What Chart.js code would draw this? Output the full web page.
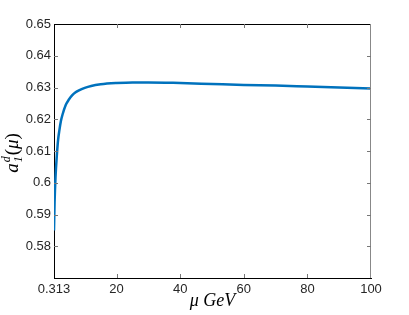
<!DOCTYPE html>
<html>
<head>
<meta charset="utf-8">
<script src="https://cdn.jsdelivr.net/npm/chart.js@4.4.1/dist/chart.umd.min.js"></script>
<style>
  html, body { margin: 0; padding: 0; background: #fff; }
  #wrap { width: 409px; height: 315px; }
</style>
</head>
<body>
<div id="wrap"><canvas id="chart" width="409" height="315"></canvas></div>
<script>
// values
const mu = [0.313, 0.5, 0.8, 1.2, 1.6, 2.0, 2.5, 3, 4, 5, 6, 7, 8, 10, 12, 15, 20, 25, 30, 40, 50, 60, 70, 80, 90, 100];
const a1d = [0.585, 0.594, 0.602, 0.6085, 0.6135, 0.6165, 0.6195, 0.6215, 0.6245, 0.6262, 0.6275, 0.6284, 0.6290,
             0.6299, 0.6305, 0.6310, 0.6314, 0.6316, 0.6316, 0.6314, 0.6311, 0.6308, 0.6306, 0.6303, 0.6300, 0.6297];
const xTicks = [0.313, 20, 40, 60, 80, 100];
const yTicks = [0.57, 0.58, 0.59, 0.6, 0.61, 0.62, 0.63, 0.64, 0.65];

const tickFont = { family: 'Liberation Sans', size: 13 };

// box + inward tick marks, matlab style
const boxPlugin = {
  id: 'box',
  afterDraw(chart) {
    const ctx = chart.ctx, a = chart.chartArea;
    const xs = chart.scales.x, ys = chart.scales.y;
    ctx.save();
    ctx.lineWidth = 1;
    ctx.strokeStyle = '#000';
    ctx.beginPath();
    ctx.moveTo(a.left, a.top + 0.5);
    ctx.lineTo(a.right, a.top + 0.5);
    ctx.stroke();
    ctx.strokeStyle = '#888';
    ctx.beginPath();
    ctx.moveTo(a.right - 0.5, a.top);
    ctx.lineTo(a.right - 0.5, a.bottom);
    ctx.stroke();
    ctx.strokeStyle = '#777';
    ctx.beginPath();
    xTicks.slice(1, -1).forEach(v => {
      const px = Math.round(xs.getPixelForValue(v)) + 0.5;
      ctx.moveTo(px, a.bottom); ctx.lineTo(px, a.bottom - 4);
      ctx.moveTo(px, a.top); ctx.lineTo(px, a.top + 4);
    });
    yTicks.slice(1, -1).forEach(v => {
      const py = Math.round(ys.getPixelForValue(v)) + 0.5;
      ctx.moveTo(a.left, py); ctx.lineTo(a.left + 4, py);
      ctx.moveTo(a.right, py); ctx.lineTo(a.right - 4, py);
    });
    ctx.stroke();

    // axis titles
    ctx.fillStyle = '#000';
    ctx.textBaseline = 'alphabetic';
    ctx.font = 'italic 18px "Liberation Serif"';
    ctx.textAlign = 'center';
    ctx.fillText('\u03BC GeV', (a.left + a.right) / 2, 306);

    // y title a_1^d(mu), rotated
    ctx.translate(18, (a.top + a.bottom) / 2 + 2);
    ctx.rotate(-Math.PI / 2);
    ctx.textAlign = 'left';
    const big = 'italic 19px "Liberation Serif"';
    const small = 'italic 12px "Liberation Serif"';
    const up = '19px "Liberation Serif"';
    ctx.font = big; const wA = ctx.measureText('a').width;
    ctx.font = small; const wS = Math.max(ctx.measureText('d').width, ctx.measureText('1').width);
    ctx.font = up; const wP = ctx.measureText('(').width * 2;
    ctx.font = big; const wM = ctx.measureText('\u03BC').width;
    let x = -(wA + wS + 2 + wP + wM) / 2;
    ctx.font = big; ctx.fillText('a', x, 0); x += wA + 1;
    ctx.font = small; ctx.fillText('d', x, -8); ctx.fillText('1', x, 4); x += wS + 1;
    ctx.font = up; ctx.fillText('(', x, 0); x += wP / 2;
    ctx.font = big; ctx.fillText('\u03BC', x, 0); x += wM;
    ctx.font = up; ctx.fillText(')', x, 0);
    ctx.restore();
  }
};

new Chart(document.getElementById('chart'), {
  type: 'line',
  data: {
    datasets: [{
      data: mu.map((m, i) => ({ x: m, y: a1d[i] })),
      borderColor: '#0072BD',
      borderWidth: 2.5,
      pointRadius: 0,
      cubicInterpolationMode: 'monotone',
      fill: false
    }]
  },
  options: {
    responsive: false,
    animation: false,
    devicePixelRatio: 1,
    layout: { padding: { top: 24, right: 38, left: 0, bottom: 0 } },
    plugins: { legend: { display: false }, tooltip: { enabled: false } },
    scales: {
      x: {
        type: 'linear',
        min: 0.313,
        max: 100,
        afterBuildTicks: s => { s.ticks = xTicks.map(v => ({ value: v })); },
        afterFit: s => { s.height = 37; },
        grid: { display: false, drawTicks: false },
        border: { display: true, color: '#000', width: 1 },
        ticks: {
          font: tickFont, color: '#262626', padding: 4, maxRotation: 0,
          callback: v => String(v)
        }
      },
      y: {
        min: 0.57,
        max: 0.65,
        afterBuildTicks: s => { s.ticks = yTicks.map(v => ({ value: v })); },
        afterFit: s => { s.width = 54; },
        grid: { display: false, drawTicks: false },
        border: { display: true, color: '#000', width: 1 },
        ticks: {
          font: tickFont, color: '#262626', padding: 3,
          callback: v => (v <= 0.5701 ? '' : String(+v.toFixed(2)))
        }
      }
    }
  },
  plugins: [boxPlugin]
});
</script>
</body>
</html>
